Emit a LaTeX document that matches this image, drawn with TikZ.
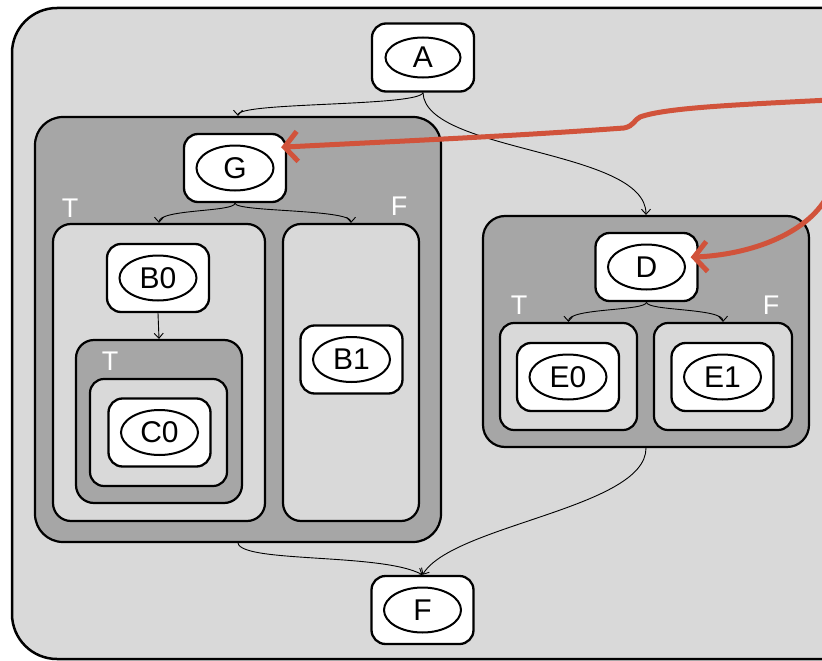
\documentclass[tikz,border=0pt]{standalone}
\usepackage{fontspec}
\setmainfont{Liberation Sans}
\usetikzlibrary{arrows.meta,shapes.geometric}
\definecolor{bglight}{HTML}{D9D9D9}
\definecolor{bgdark}{HTML}{A6A6A6}
\definecolor{flowred}{HTML}{D1533B}
\tikzset{
  region/.style={draw=black, line width=2.2pt, inner sep=0pt, rounded corners=#1},
  darkregion/.style={region=#1, fill=bgdark},
  lightregion/.style={region=#1, fill=bglight},
  statebox/.style={draw=black, line width=2.3pt, fill=white, rounded corners=14pt,
    minimum width=102pt, minimum height=68pt, inner sep=0pt},
  oval/.style={ellipse, draw=black, line width=2pt, minimum width=77pt,
    minimum height=45pt, inner sep=0pt, font=\fontsize{30}{32}\selectfont},
  branch/.style={text=white, font=\fontsize{27}{29}\selectfont},
  edge/.style={draw=black, line width=0.9pt, -{Straight Barb[length=5pt,width=9pt]}},
  jump/.style={draw=flowred, line width=5pt, line cap=round,
    -{Straight Barb[length=13pt,width=30pt]}}
}
\begin{document}
\begin{tikzpicture}[x=1pt,y=-1pt]
\useasboundingbox (0,0) rectangle (822,661);
\fill[white] (0,0) rectangle (822,661);
\clip (0,0) rectangle (822,661);

% outer frame
\draw[fill=bglight, line width=2.5pt, rounded corners=45pt] (12,8) rectangle (880,659);

% conditional regions
\node[darkregion=28pt, minimum width=406pt, minimum height=425pt] (Gc) at (238,329.5) {};
\node[lightregion=18pt, minimum width=212pt, minimum height=297pt] (Tp) at (159,372.5) {};
\node[lightregion=18pt, minimum width=136pt, minimum height=297pt] (Fp) at (351,372.5) {};
\node[darkregion=18pt, minimum width=166pt, minimum height=163pt] (Ic) at (159,421.5) {};
\node[lightregion=14pt, minimum width=137pt, minimum height=107pt] (Ip) at (158.5,432.5) {};
\node[darkregion=22pt, minimum width=326pt, minimum height=231pt] (Dc) at (646,331.5) {};
\node[lightregion=14pt, minimum width=137pt, minimum height=107pt] (E0p) at (568.5,376.5) {};
\node[lightregion=14pt, minimum width=138pt, minimum height=107pt] (E1p) at (723,376.5) {};

% branch labels
\node[branch] (tG) at (70,208) {T};
\node[branch] (fG) at (399,206) {F};
\node[branch] (tB) at (110,361) {T};
\node[branch] (tD) at (519,305) {T};
\node[branch] (fD) at (771,305) {F};

% states
\node[statebox] (A) at (423,57.5) {};
\node[oval, minimum height=40pt, minimum width=75pt] (Ao) at (A) {A};
\node[statebox] (G) at (235,168) {};
\node[oval] (Go) at (G) {G};
\node[statebox] (B0) at (158,278) {};
\node[oval] (B0o) at (B0) {B0};
\node[statebox] (C0) at (159.5,432.5) {};
\node[oval] (C0o) at (C0) {C0};
\node[statebox] (B1) at (351.5,359.5) {};
\node[oval] (B1o) at (B1) {B1};
\node[statebox] (D) at (646.5,267) {};
\node[oval] (Do) at (D) {D};
\node[statebox] (E0) at (568,377) {};
\node[oval] (E0o) at (E0) {E0};
\node[statebox] (E1) at (722.5,377) {};
\node[oval] (E1o) at (E1) {E1};
\node[statebox] (F) at (422.5,610) {};
\node[oval] (Fo) at (F) {F};

% control flow
\draw[edge] (A.south) .. controls +(-4,14) and +(0,-14) .. (Gc.north);
\draw[edge] (A.south) .. controls +(2,60) and +(0,-66) .. (Dc.north);
\draw[edge] (G.south) .. controls +(0,9) and +(0,-14) .. (Tp.north);
\draw[edge] (G.south) .. controls +(0,9) and +(0,-14) .. (Fp.north);
\draw[edge] (B0.south) -- (Ic.north);
\draw[edge] (D.south) .. controls +(0,9) and +(0,-14) .. (E0p.north);
\draw[edge] (D.south) .. controls +(0,9) and +(0,-14) .. (E1p.north);
\draw[edge] (Gc.south) .. controls +(4,20) and +(-40,-22) .. (F.north);
\draw[edge] (Dc.south) .. controls +(0,60) and +(30,-50) .. (F.north);

% jumps entering from the right
\draw[jump, shorten >=-6pt] (830,100) .. controls (730,105) and (665,108) .. (640,117)
  .. controls (634,120) and (634,126) .. (624,128)
  .. controls (500,137) and (380,142) .. (G.22);
\draw[jump, shorten >=-8pt] (830,190) .. controls (815,228) and (760,254) .. (D.11);
\end{tikzpicture}
\end{document}
